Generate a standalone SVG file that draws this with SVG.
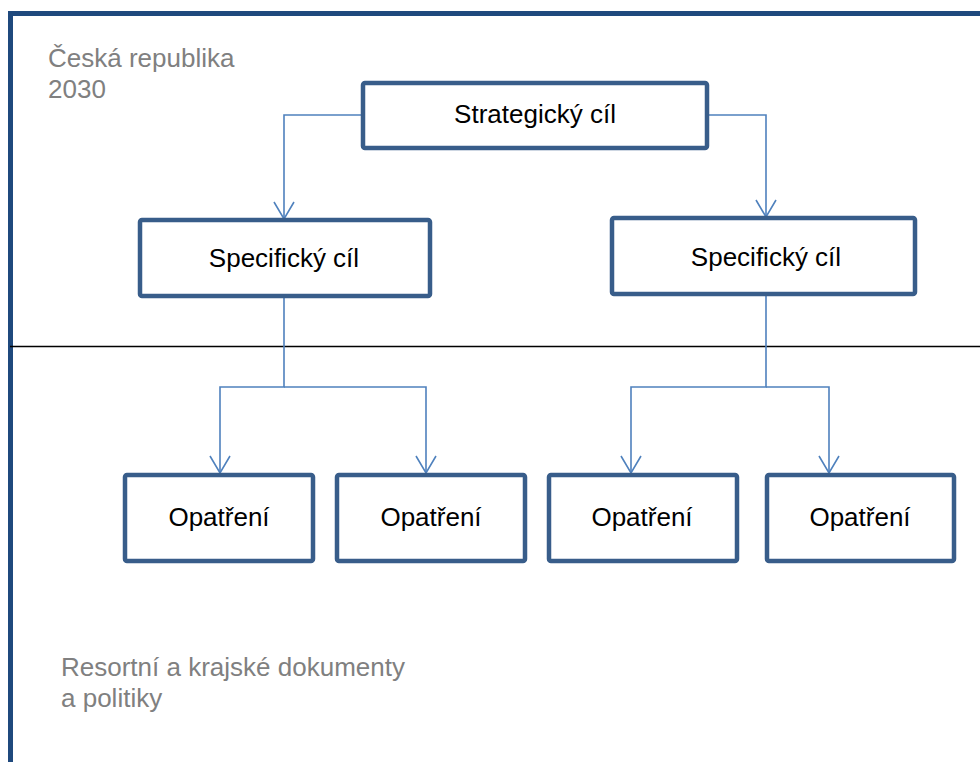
<svg xmlns="http://www.w3.org/2000/svg" width="980" height="762" viewBox="0 0 980 762">
<style>
.box{fill:#fff;stroke:#385d8a;stroke-width:4.5}
.lbl{font-family:"Liberation Sans",Arial,sans-serif;font-size:26px;fill:#000;text-anchor:middle}
.note{font-family:"Liberation Sans",Arial,sans-serif;font-size:26px;fill:#808080}
.con{fill:none;stroke:#4f81bd;stroke-width:1.6}
</style>
<defs>
<marker id="arr" markerWidth="22" markerHeight="24" viewBox="0 0 22 24" refX="19" refY="12" markerUnits="userSpaceOnUse" orient="auto">
<path d="M2,2 L19,12 L2,22" fill="none" stroke="#4f81bd" stroke-width="1.6"/>
</marker>
</defs>
<rect width="980" height="762" fill="#fff"/>
<g id="frame">
<path d="M10.5,762 V13.5 H980" fill="none" stroke="#1f497d" stroke-width="5"/>
<line x1="10" y1="346.5" x2="980" y2="346.5" stroke="#000" stroke-width="1.3"/>
</g>
<g id="notes">
<text class="note" x="48" y="67">Česká republika</text>
<text class="note" x="48" y="98">2030</text>
<text class="note" x="61" y="676">Resortní a krajské dokumenty</text>
<text class="note" x="61" y="707">a politiky</text>
</g>
<g id="connectors">
<path class="con" d="M363,115 H284 V219" marker-end="url(#arr)"/>
<path class="con" d="M707,115 H766 V217" marker-end="url(#arr)"/>
<path class="con" d="M284,296 V387 H220 V473" marker-end="url(#arr)"/>
<path class="con" d="M284,387 H426 V473" marker-end="url(#arr)"/>
<path class="con" d="M766,294 V387 H631 V473" marker-end="url(#arr)"/>
<path class="con" d="M766,387 H829 V473" marker-end="url(#arr)"/>
</g>
<g id="strategic">
<rect class="box" x="363" y="83" width="344" height="65" rx="2"/>
<text class="lbl" x="535" y="123">Strategický cíl</text>
</g>
<g id="specific1">
<rect class="box" x="140" y="220" width="290" height="76" rx="2"/>
<text class="lbl" x="284" y="267">Specifický cíl</text>
</g>
<g id="specific2">
<rect class="box" x="612" y="218" width="303" height="76" rx="2"/>
<text class="lbl" x="766" y="266">Specifický cíl</text>
</g>
<g id="measure1">
<rect class="box" x="125" y="475" width="188" height="86" rx="2"/>
<text class="lbl" x="219" y="526">Opatření</text>
</g>
<g id="measure2">
<rect class="box" x="337" y="475" width="188" height="86" rx="2"/>
<text class="lbl" x="431" y="526">Opatření</text>
</g>
<g id="measure3">
<rect class="box" x="549" y="475" width="188" height="86" rx="2"/>
<text class="lbl" x="642" y="526">Opatření</text>
</g>
<g id="measure4">
<rect class="box" x="767" y="475" width="187" height="86" rx="2"/>
<text class="lbl" x="860" y="526">Opatření</text>
</g>
</svg>
